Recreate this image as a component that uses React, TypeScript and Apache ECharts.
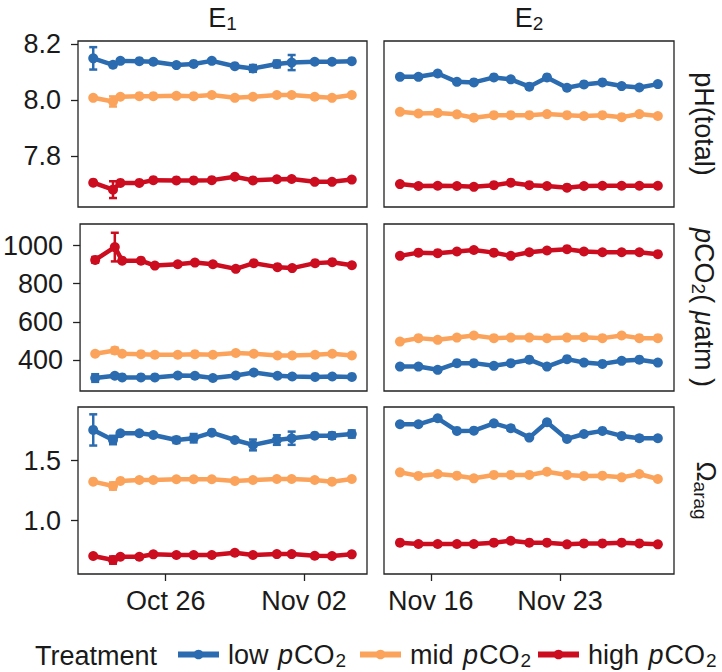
import React, { useEffect, useRef } from "react";
import * as echarts from "echarts";

const FONT = '"Liberation Sans", Arial, Helvetica, sans-serif';
const TEXT = "#1a1a1a";

// Treatments and colours
const TREATMENTS = ["low", "mid", "high"];
const COLORS = ["#2b6bb0", "#fca35b", "#cc0c1f"];

// Sampling dates (UTC)
const E1_DATES = [
  "2017-10-22T08:00", "2017-10-23T08:00", "2017-10-23T17:00", "2017-10-24T16:00", "2017-10-25T09:00",
  "2017-10-26T13:00", "2017-10-27T10:00", "2017-10-28T08:00", "2017-10-29T12:00", "2017-10-30T10:00",
  "2017-10-31T15:00", "2017-11-01T09:00", "2017-11-02T13:00", "2017-11-03T10:00", "2017-11-04T10:00",
];
const E2_DATES = [
  "2017-11-14T08:00", "2017-11-15T08:00", "2017-11-16T09:00", "2017-11-17T10:00", "2017-11-18T08:00",
  "2017-11-19T10:00", "2017-11-20T08:00", "2017-11-21T08:00", "2017-11-22T07:00", "2017-11-23T09:00",
  "2017-11-24T07:00", "2017-11-25T07:00", "2017-11-26T08:00", "2017-11-27T07:00", "2017-11-28T07:00",
];
const E1_TICKS = ["2017-10-26T00:00", "2017-11-02T00:00"];
const E2_TICKS = ["2017-11-16T00:00", "2017-11-23T00:00"];
const E1_RANGE = ["2017-10-21T13:30", "2017-11-05T04:30"];
const E2_RANGE = ["2017-11-13T11:15", "2017-11-29T04:00"];

// pH (total)
const PH_E1_LOW = [8.149, 8.126, 8.140, 8.139, 8.137, 8.125, 8.129, 8.140, 8.121, 8.113, 8.129, 8.134, 8.137, 8.137, 8.139];
const PH_E1_MID = [8.008, 7.995, 8.012, 8.014, 8.014, 8.015, 8.014, 8.018, 8.008, 8.012, 8.018, 8.018, 8.012, 8.008, 8.018];
const PH_E1_HIGH = [7.705, 7.680, 7.704, 7.704, 7.714, 7.713, 7.713, 7.714, 7.726, 7.713, 7.717, 7.718, 7.708, 7.708, 7.716];
const PH_E1_LOW_ERR = [0.04, 0.008, 0, 0, 0, 0, 0.005, 0, 0, 0.012, 0.012, 0.027, 0, 0.006, 0];
const PH_E1_MID_ERR = [0, 0.018, 0, 0, 0, 0, 0, 0, 0, 0, 0, 0, 0, 0, 0];
const PH_E1_HIGH_ERR = [0, 0.03, 0, 0, 0, 0, 0, 0, 0, 0, 0, 0, 0, 0, 0];
const PH_E2_LOW = [8.083, 8.083, 8.095, 8.065, 8.063, 8.081, 8.074, 8.048, 8.081, 8.044, 8.056, 8.063, 8.050, 8.045, 8.057];
const PH_E2_MID = [7.958, 7.952, 7.954, 7.949, 7.937, 7.946, 7.946, 7.946, 7.950, 7.946, 7.943, 7.946, 7.939, 7.950, 7.943];
const PH_E2_HIGH = [7.700, 7.693, 7.694, 7.693, 7.690, 7.696, 7.705, 7.696, 7.693, 7.687, 7.693, 7.694, 7.694, 7.694, 7.694];

// pCO2 (µatm)
const PCO2_E1_LOW = [306, 318, 309, 309, 309, 319, 318, 306, 319, 335, 318, 314, 312, 314, 312];
const PCO2_E1_MID = [433, 450, 433, 431, 428, 428, 431, 428, 437, 433, 424, 424, 428, 433, 424];
const PCO2_E1_HIGH = [925, 992, 921, 921, 895, 902, 911, 902, 878, 908, 887, 882, 908, 913, 897];
const PCO2_E1_LOW_ERR = [20, 8, 0, 0, 0, 0, 0, 0, 0, 8, 0, 8, 0, 0, 0];
const PCO2_E1_MID_ERR = [0, 15, 0, 0, 0, 0, 0, 0, 0, 0, 0, 0, 0, 0, 0];
const PCO2_E1_HIGH_ERR = [15, 75, 0, 0, 0, 0, 0, 0, 0, 0, 0, 0, 0, 0, 0];
const PCO2_E2_LOW = [366, 366, 349, 384, 384, 370, 384, 402, 366, 405, 387, 380, 396, 402, 387];
const PCO2_E2_MID = [497, 515, 506, 518, 529, 515, 518, 518, 515, 518, 520, 515, 529, 515, 515];
const PCO2_E2_HIGH = [946, 963, 960, 969, 977, 963, 946, 965, 974, 981, 969, 965, 965, 965, 955];

// Omega aragonite
const OMEGA_E1_LOW = [1.756, 1.672, 1.728, 1.728, 1.714, 1.672, 1.687, 1.733, 1.672, 1.631, 1.672, 1.687, 1.708, 1.708, 1.722];
const OMEGA_E1_MID = [1.325, 1.289, 1.331, 1.339, 1.339, 1.345, 1.345, 1.345, 1.331, 1.339, 1.347, 1.347, 1.339, 1.325, 1.347];
const OMEGA_E1_HIGH = [0.706, 0.672, 0.700, 0.700, 0.720, 0.714, 0.714, 0.714, 0.733, 0.714, 0.722, 0.722, 0.708, 0.706, 0.720];
const OMEGA_E1_LOW_ERR = [0.13, 0.035, 0, 0, 0, 0.025, 0.035, 0, 0, 0.045, 0.04, 0.055, 0, 0.025, 0.03];
const OMEGA_E1_MID_ERR = [0, 0.03, 0, 0, 0, 0, 0, 0, 0, 0, 0, 0, 0, 0, 0];
const OMEGA_E1_HIGH_ERR = [0, 0.03, 0, 0, 0, 0, 0, 0, 0, 0, 0, 0, 0, 0, 0];
const OMEGA_E2_LOW = [1.803, 1.803, 1.853, 1.748, 1.750, 1.811, 1.770, 1.692, 1.820, 1.681, 1.722, 1.748, 1.706, 1.687, 1.687];
const OMEGA_E2_MID = [1.403, 1.373, 1.389, 1.375, 1.353, 1.381, 1.381, 1.381, 1.408, 1.381, 1.373, 1.375, 1.361, 1.389, 1.347];
const OMEGA_E2_HIGH = [0.817, 0.806, 0.806, 0.806, 0.806, 0.817, 0.833, 0.817, 0.817, 0.803, 0.811, 0.811, 0.817, 0.811, 0.803];
const OMEGA_E2_LOW_ERR = [0, 0, 0, 0, 0, 0, 0.02, 0, 0, 0, 0, 0, 0, 0.02, 0];

// Y axis ticks / ranges
const PH_TICKS = [7.8, 8.0, 8.2];
const PCO2_TICKS = [400, 600, 800, 1000];
const OMEGA_TICKS = [1.0, 1.5];
const PH_RANGE = [7.618, 8.211];
const PCO2_RANGE = [238, 1113];
const OMEGA_RANGE = [0.556, 1.947];

const ms = (s: string) => Date.parse(s + ":00Z");
const MONTHS = ["Jan", "Feb", "Mar", "Apr", "May", "Jun", "Jul", "Aug", "Sep", "Oct", "Nov", "Dec"];
const fmtDate = (v: number) => {
  const d = new Date(v);
  const day = d.getUTCDate();
  return MONTHS[d.getUTCMonth()] + " " + (day < 10 ? "0" + day : String(day));
};

const ROWS = [
  {
    range: PH_RANGE, ticks: PH_TICKS, fmt: (v: number) => v.toFixed(1),
    data: [[PH_E1_LOW, PH_E1_MID, PH_E1_HIGH], [PH_E2_LOW, PH_E2_MID, PH_E2_HIGH]],
    err: [[PH_E1_LOW_ERR, PH_E1_MID_ERR, PH_E1_HIGH_ERR], [null, null, null]],
  },
  {
    range: PCO2_RANGE, ticks: PCO2_TICKS, fmt: (v: number) => String(Math.round(v)),
    data: [[PCO2_E1_LOW, PCO2_E1_MID, PCO2_E1_HIGH], [PCO2_E2_LOW, PCO2_E2_MID, PCO2_E2_HIGH]],
    err: [[PCO2_E1_LOW_ERR, PCO2_E1_MID_ERR, PCO2_E1_HIGH_ERR], [null, null, null]],
  },
  {
    range: OMEGA_RANGE, ticks: OMEGA_TICKS, fmt: (v: number) => v.toFixed(1),
    data: [[OMEGA_E1_LOW, OMEGA_E1_MID, OMEGA_E1_HIGH], [OMEGA_E2_LOW, OMEGA_E2_MID, OMEGA_E2_HIGH]],
    err: [[OMEGA_E1_LOW_ERR, OMEGA_E1_MID_ERR, OMEGA_E1_HIGH_ERR], [OMEGA_E2_LOW_ERR, null, null]],
  },
];
const COLS = [
  { dates: E1_DATES, ticks: E1_TICKS, range: E1_RANGE },
  { dates: E2_DATES, ticks: E2_TICKS, range: E2_RANGE },
];

// layout (px)
const COL_LEFT = [78, 384];
const COL_WIDTH = [289, 290];
const ROW_TOP = [41, 224, 407];
const ROW_HEIGHT = [166, 167, 167];
const LEGEND_LEFT = [175, 357, 535];

const FS = 27;
const SUB = 19;

const graphicRich = {
  n: { fontSize: FS, fontFamily: FONT, fill: TEXT, lineHeight: 30 },
  i: { fontSize: FS, fontFamily: FONT, fill: TEXT, fontStyle: "italic", lineHeight: 30 },
  s: { fontSize: SUB, fontFamily: FONT, fill: TEXT, verticalAlign: "bottom", lineHeight: 14 },
};
const legendRich = {
  f: { fontSize: FS, fontFamily: FONT, color: TEXT, lineHeight: 30, padding: [0, 0, 0, 4] },
  n: { fontSize: FS, fontFamily: FONT, color: TEXT, lineHeight: 30 },
  i: { fontSize: FS, fontFamily: FONT, color: TEXT, fontStyle: "italic", lineHeight: 30, padding: [0, 1, 0, 2] },
  s: { fontSize: SUB, fontFamily: FONT, color: TEXT, verticalAlign: "bottom", lineHeight: 14, padding: [0, 0, 0, 1] },
};

function textEl(x: number, y: number, text: string, rotation = 0, align = "center") {
  return {
    type: "text",
    x,
    y,
    rotation,
    silent: true,
    style: {
      text,
      rich: graphicRich,
      fontSize: FS,
      fontFamily: FONT,
      fill: TEXT,
      align,
      verticalAlign: "middle",
    },
  };
}

export default function App() {
  const ref = useRef<HTMLDivElement>(null);
  useEffect(() => {
    document.body.style.margin = "0";
    if (!ref.current) return;
    const chart = echarts.init(ref.current, null, { renderer: "svg" });

    const grids: any[] = [];
    const xAxes: any[] = [];
    const yAxes: any[] = [];
    const series: any[] = [];

    ROWS.forEach((row, r) => {
      COLS.forEach((col, c) => {
        const g = r * 2 + c;
        grids.push({
          left: COL_LEFT[c],
          top: ROW_TOP[r],
          width: COL_WIDTH[c],
          height: ROW_HEIGHT[r],
          show: true,
          borderColor: "#222",
          borderWidth: 1.3,
          backgroundColor: "transparent",
        });
        const xt = col.ticks.map(ms);
        xAxes.push({
          type: "value",
          gridIndex: g,
          min: ms(col.range[0]),
          max: ms(col.range[1]),
          axisLine: { show: false },
          splitLine: { show: false },
          axisTick: { show: r === 2, customValues: xt, length: 7, lineStyle: { color: "#222", width: 1.3 } },
          axisLabel: {
            show: r === 2,
            customValues: xt,
            formatter: (v: number) => fmtDate(v),
            fontSize: FS,
            fontFamily: FONT,
            color: TEXT,
            margin: 13,
          },
        });
        yAxes.push({
          type: "value",
          gridIndex: g,
          min: row.range[0],
          max: row.range[1],
          axisLine: { show: false },
          splitLine: { show: false },
          axisTick: { show: c === 0, customValues: row.ticks, length: 7, lineStyle: { color: "#222", width: 1.3 } },
          axisLabel: {
            show: c === 0,
            customValues: row.ticks,
            formatter: (v: number) => row.fmt(v),
            fontSize: FS,
            fontFamily: FONT,
            color: TEXT,
            margin: 17,
          },
        });
        const xs = col.dates.map(ms);
        TREATMENTS.forEach((t, k) => {
          const vals = row.data[c][k];
          series.push({
            type: "line",
            name: t,
            xAxisIndex: g,
            yAxisIndex: g,
            data: xs.map((x, i) => [x, vals[i]]),
            symbol: "circle",
            symbolSize: 10,
            showSymbol: true,
            lineStyle: { width: 4.5, color: COLORS[k] },
            itemStyle: { color: COLORS[k] },
            z: 3,
          });
          const errs = row.err[c][k];
          if (errs) {
            const ed = xs
              .map((x, i) => [x, vals[i], errs[i]])
              .filter((d) => d[2] > 0);
            series.push({
              type: "custom",
              xAxisIndex: g,
              yAxisIndex: g,
              data: ed,
              encode: { x: 0, y: 1 },
              silent: true,
              z: 4,
              renderItem: (params: any, api: any) => {
                const x = api.value(0);
                const y = api.value(1);
                const e = api.value(2);
                const top = api.coord([x, y + e]);
                const bot = api.coord([x, y - e]);
                const hw = 4;
                const style = { stroke: COLORS[k], lineWidth: 2.5 };
                return {
                  type: "group",
                  children: [
                    { type: "line", shape: { x1: top[0], y1: top[1], x2: bot[0], y2: bot[1] }, style },
                    { type: "line", shape: { x1: top[0] - hw, y1: top[1], x2: top[0] + hw, y2: top[1] }, style },
                    { type: "line", shape: { x1: bot[0] - hw, y1: bot[1], x2: bot[0] + hw, y2: bot[1] }, style },
                  ],
                };
              },
            });
          }
        });
      });
    });

    const rowCenter = (r: number) => ROW_TOP[r] + ROW_HEIGHT[r] / 2;
    const colCenter = (c: number) => COL_LEFT[c] + COL_WIDTH[c] / 2;

    const legendLabels: Record<string, string> = {
      low: "{f|low }{i|p}{n|CO}{s|2}",
      mid: "{f|mid }{i|p}{n|CO}{s|2}",
      high: "{f|high }{i|p}{n|CO}{s|2}",
    };

    const legends = TREATMENTS.map((t, k) => ({
      data: [t],
      left: LEGEND_LEFT[k],
      top: 641,
      padding: 0,
      itemWidth: 41,
      itemHeight: 12,
      selectedMode: false,
      lineStyle: { width: 6 },
      formatter: (name: string) => legendLabels[name],
      textStyle: { fontSize: FS, fontFamily: FONT, color: TEXT, rich: legendRich },
    }));

    chart.setOption({
      animation: false,
      grid: grids,
      xAxis: xAxes,
      yAxis: yAxes,
      series,
      legend: legends,
      graphic: [
        textEl(colCenter(0), 18, "{n|E}{s|1}"),
        textEl(colCenter(1), 18, "{n|E}{s|2}"),
        textEl(704, rowCenter(0), "{n|pH(total)}", -Math.PI / 2),
        textEl(704, rowCenter(1), "{i|p}{n|CO}{s|2}{n|( }{i|μ}{n|atm )}", -Math.PI / 2),
        textEl(706, rowCenter(2), "{n|Ω}{s|arag}", -Math.PI / 2),
        textEl(35, 656, "{n|Treatment}", 0, "left"),
      ],
    });

    return () => chart.dispose();
  }, []);

  return <div ref={ref} style={{ width: 722, height: 672 }} />;
}
